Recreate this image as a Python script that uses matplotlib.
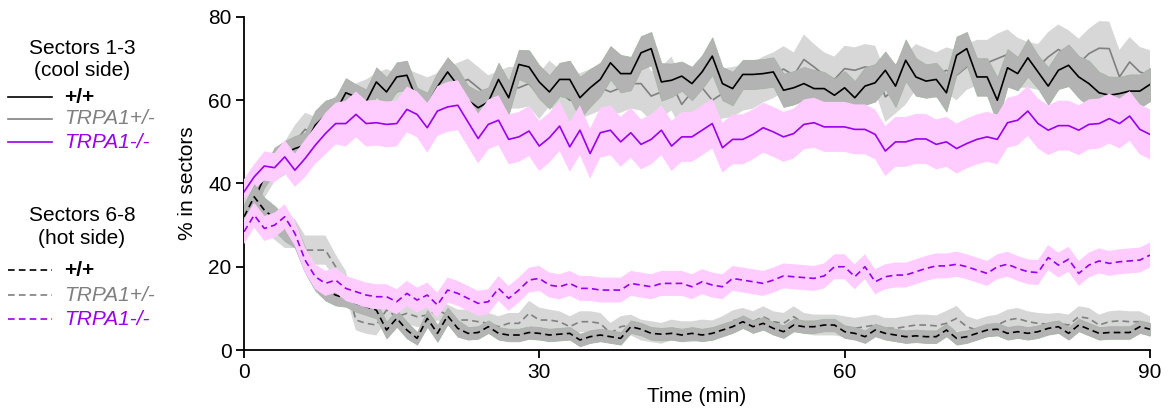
import numpy as np
import matplotlib
matplotlib.use("Agg")
import matplotlib.pyplot as plt
from matplotlib.lines import Line2D

plt.rcParams['font.family'] = ['Liberation Sans', 'DejaVu Sans']

# ---------------- data (minutes 1..90) ----------------
time_min = np.arange(1, 91)

cool_wt = [29.6, 36.0, 41.6, 45.6, 47.2, 48.4, 49.2, 54.0, 56.4, 57.2,
           61.8, 60.8, 59.6, 64.4, 62.0, 65.6, 66.0, 60.0, 58.8, 63.2,
           66.8, 63.6, 60.0, 58.2, 59.6, 65.0, 60.6, 68.6, 68.0, 64.4,
           62.0, 65.0, 65.0, 60.6, 63.0, 65.0, 69.0, 66.4, 66.4, 71.4,
           72.4, 64.4, 64.8, 65.8, 64.0, 66.8, 70.6, 64.0, 62.8, 66.2,
           66.2, 66.4, 66.8, 62.4, 63.0, 64.0, 62.8, 62.8, 61.2, 63.0,
           60.6, 63.4, 64.2, 67.2, 63.4, 69.6, 65.6, 64.6, 65.0, 61.8,
           70.8, 72.4, 65.6, 65.6, 60.0, 67.8, 66.4, 70.2, 66.8, 63.4,
           67.2, 68.4, 65.6, 64.0, 61.8, 61.2, 61.6, 62.2, 62.2, 63.8]
cool_wt_sem = [2.0, 2.5, 2.5, 3.0, 3.0, 3.0, 3.0, 3.5, 3.5, 3.5,
               3.5, 3.0, 3.0, 3.5, 3.5, 3.5, 3.5, 3.0, 3.0, 3.5,
               3.5, 4.0, 3.5, 4.0, 3.5, 4.0, 4.0, 3.5, 4.0, 4.0,
               4.0, 4.0, 4.5, 5.0, 4.5, 4.0, 4.0, 4.5, 4.0, 4.0,
               4.0, 4.5, 4.0, 3.5, 4.0, 4.0, 4.5, 4.0, 4.0, 3.5,
               3.5, 3.5, 3.5, 4.0, 4.0, 4.0, 4.5, 4.0, 4.0, 4.0,
               4.0, 4.5, 4.5, 4.5, 5.0, 5.0, 4.5, 4.0, 4.0, 4.5,
               4.5, 4.0, 4.5, 4.5, 5.5, 4.5, 4.0, 4.5, 4.0, 4.5,
               4.5, 5.0, 5.0, 5.5, 5.0, 4.5, 4.0, 4.0, 4.0, 4.0]

cool_het = [30.5, 36.0, 40.0, 44.0, 46.0, 50.0, 53.0, 52.0, 55.0, 57.0,
            59.0, 60.0, 61.0, 62.0, 63.0, 62.0, 63.0, 62.0, 61.0, 62.0,
            63.0, 64.0, 65.0, 63.0, 61.0, 62.0, 63.0, 63.0, 64.0, 61.0,
            64.0, 62.0, 60.0, 61.0, 62.0, 63.0, 62.0, 63.0, 64.0, 64.0,
            61.0, 62.0, 64.0, 59.0, 62.0, 63.0, 60.0, 61.6, 62.0, 63.0,
            63.5, 65.0, 66.0, 67.5, 66.0, 69.8, 68.0, 66.0, 65.0, 67.6,
            67.2, 68.0, 67.6, 60.8, 62.8, 65.0, 68.0, 67.0, 66.0, 67.2,
            66.0, 68.0, 69.0, 69.0, 70.0, 71.0, 69.0, 68.5, 68.0, 70.4,
            72.2, 70.8, 68.8, 71.2, 72.5, 72.4, 65.6, 69.2, 66.8, 66.0]
cool_het_sem = [3.0, 3.0, 3.5, 3.5, 4.0, 4.0, 4.0, 4.0, 4.0, 4.0,
                4.0, 4.0, 4.0, 4.5, 4.5, 4.5, 4.5, 4.5, 4.5, 4.5,
                5.0, 5.0, 5.0, 5.0, 5.0, 5.0, 5.0, 5.0, 5.5, 5.5,
                5.5, 5.5, 5.5, 5.5, 5.5, 5.5, 5.5, 6.0, 6.0, 6.5,
                6.0, 6.0, 6.5, 6.0, 6.0, 6.0, 6.5, 6.0, 6.0, 5.5,
                5.5, 5.5, 5.5, 5.5, 5.5, 6.0, 5.5, 5.5, 5.5, 5.5,
                5.5, 5.5, 5.5, 6.0, 6.0, 6.0, 5.5, 5.5, 5.5, 5.5,
                6.0, 5.5, 5.5, 5.5, 6.0, 6.0, 6.0, 5.5, 5.5, 6.0,
                6.0, 6.0, 6.0, 6.0, 6.5, 6.5, 6.5, 6.0, 6.0, 6.0]

cool_ko = [38.0, 41.6, 44.2, 43.8, 46.4, 43.2, 46.0, 49.2, 52.0, 54.4,
           54.4, 56.6, 54.4, 54.6, 54.2, 54.4, 57.8, 56.6, 53.4, 57.4,
           58.4, 58.8, 54.8, 50.8, 54.2, 55.2, 50.6, 51.2, 52.6, 49.0,
           51.0, 53.8, 48.8, 52.8, 47.2, 52.2, 52.8, 50.0, 52.2, 49.4,
           50.6, 52.8, 49.0, 51.2, 51.2, 52.8, 54.4, 48.6, 50.6, 50.6,
           51.8, 53.4, 52.4, 51.2, 52.0, 54.2, 54.6, 53.6, 53.6, 53.6,
           53.0, 53.0, 51.8, 47.8, 50.0, 50.0, 50.7, 50.7, 49.4, 50.0,
           48.4, 49.6, 50.6, 51.2, 50.6, 54.6, 55.2, 57.4, 54.4, 52.8,
           53.9, 53.9, 52.8, 54.2, 54.4, 55.6, 54.4, 56.2, 53.0, 51.8]
cool_ko_sem = [3.0, 3.0, 3.5, 3.5, 4.0, 4.0, 4.5, 4.5, 5.0, 5.0,
               5.5, 5.5, 5.5, 5.5, 5.5, 5.5, 5.5, 5.5, 6.0, 6.0,
               6.0, 6.0, 6.0, 6.0, 6.0, 6.0, 6.0, 6.0, 6.0, 6.0,
               6.0, 6.0, 6.0, 6.0, 6.0, 6.0, 6.0, 6.0, 6.0, 6.0,
               6.0, 6.0, 6.0, 6.0, 6.0, 6.0, 6.0, 6.0, 6.0, 6.0,
               6.0, 6.0, 6.0, 6.0, 6.0, 6.0, 6.0, 6.0, 6.0, 6.0,
               6.0, 6.0, 6.0, 6.0, 6.0, 6.0, 6.0, 6.0, 6.0, 6.0,
               6.0, 6.0, 6.0, 6.0, 6.0, 6.0, 6.0, 6.0, 6.0, 6.0,
               6.0, 6.0, 6.0, 6.0, 6.0, 6.0, 6.0, 6.0, 6.0, 6.0]

hot_wt = [32.0, 36.8, 33.6, 31.6, 29.2, 27.6, 21.6, 16.8, 14.4, 13.2,
          12.4, 11.2, 10.4, 9.6, 4.8, 7.6, 4.8, 2.8, 7.6, 4.0,
          8.2, 5.2, 4.0, 4.2, 5.6, 4.0, 3.6, 3.6, 4.2, 4.0,
          3.6, 3.8, 4.0, 2.4, 3.2, 3.6, 3.2, 2.8, 5.6, 5.0,
          4.0, 3.8, 4.0, 3.6, 4.0, 3.6, 4.0, 4.8, 5.6, 6.8,
          5.6, 6.4, 5.2, 4.4, 6.0, 5.6, 5.6, 6.0, 6.0, 4.4,
          4.0, 3.2, 4.8, 4.0, 3.6, 3.2, 3.4, 3.2, 3.2, 4.8,
          2.8, 3.2, 4.0, 4.8, 5.0, 4.0, 4.4, 4.0, 4.4, 5.2,
          5.6, 4.0, 6.0, 5.0, 4.0, 4.2, 4.2, 4.2, 5.6, 5.0]
hot_wt_sem = [3.0, 3.0, 3.0, 3.0, 3.0, 3.0, 3.0, 2.5, 2.5, 2.5,
              2.0, 2.0, 2.0, 2.0, 2.0, 2.0, 2.0, 1.5, 2.0, 2.0,
              2.0, 2.0, 1.5, 1.5, 1.5, 1.5, 1.5, 1.5, 1.5, 1.5,
              1.5, 1.5, 1.5, 1.5, 1.5, 1.5, 1.5, 1.5, 1.5, 1.5,
              1.5, 1.5, 1.5, 1.5, 1.5, 1.5, 1.5, 1.5, 1.5, 1.5,
              1.5, 1.5, 1.5, 1.5, 1.5, 1.5, 1.5, 1.5, 1.5, 1.5,
              1.5, 1.5, 1.5, 1.5, 1.5, 1.5, 1.5, 1.5, 1.5, 1.5,
              1.5, 1.5, 1.5, 1.5, 1.5, 1.5, 1.5, 1.5, 1.5, 1.5,
              1.5, 1.5, 1.5, 1.5, 1.5, 1.5, 1.5, 1.5, 1.5, 1.5]

hot_het = [33.0, 35.0, 32.0, 30.0, 28.0, 28.0, 24.0, 24.0, 24.0, 20.0,
           16.0, 7.2, 6.4, 6.0, 9.6, 8.0, 8.8, 8.0, 8.4, 9.6,
           8.4, 7.2, 7.2, 6.8, 6.4, 5.6, 6.4, 6.4, 8.8, 7.2,
           7.2, 6.8, 5.6, 6.8, 6.8, 6.4, 4.0, 5.6, 6.0, 4.8,
           4.4, 4.0, 4.8, 4.4, 4.4, 4.8, 4.6, 5.6, 7.0, 7.6,
           6.8, 8.0, 6.8, 6.4, 8.0, 6.4, 6.0, 6.0, 6.0, 5.6,
           5.2, 5.6, 6.0, 5.2, 5.2, 5.6, 6.0, 6.0, 5.8, 6.4,
           7.6, 5.6, 4.8, 5.6, 6.0, 7.2, 7.6, 6.8, 6.4, 6.2,
           6.4, 6.0, 8.0, 7.6, 6.0, 6.8, 7.0, 6.8, 6.8, 5.6]
hot_het_sem = [3.5, 3.5, 3.5, 3.5, 3.5, 3.5, 3.5, 3.5, 3.5, 3.0,
               3.0, 2.5, 2.5, 2.5, 2.5, 2.5, 2.5, 2.5, 2.5, 2.5,
               2.5, 2.5, 2.5, 2.5, 2.5, 2.5, 2.5, 2.5, 3.0, 3.0,
               2.5, 2.5, 2.5, 2.5, 2.5, 2.5, 2.5, 2.5, 2.5, 2.5,
               2.5, 2.5, 2.5, 2.5, 2.5, 2.5, 2.5, 2.5, 2.5, 2.5,
               2.5, 2.5, 2.5, 2.5, 2.5, 2.5, 2.5, 2.5, 2.5, 2.5,
               2.5, 2.5, 2.5, 2.5, 2.5, 2.5, 2.5, 2.5, 2.5, 3.0,
               3.0, 2.5, 2.5, 2.5, 2.5, 2.5, 2.5, 2.5, 2.5, 2.5,
               2.5, 2.5, 2.5, 2.5, 2.5, 2.5, 2.5, 2.5, 2.5, 2.5]

hot_ko = [28.4, 32.4, 29.2, 30.0, 32.0, 28.0, 21.6, 17.6, 16.0, 16.8,
          14.8, 14.0, 13.2, 12.8, 12.8, 11.6, 13.6, 12.0, 13.2, 10.8,
          14.4, 13.6, 12.4, 11.2, 11.6, 14.8, 12.4, 14.4, 16.8, 17.2,
          15.6, 15.2, 16.0, 14.8, 14.8, 14.4, 14.4, 14.4, 16.0, 15.6,
          15.2, 16.0, 16.0, 16.0, 15.2, 16.4, 15.6, 15.2, 17.2, 16.8,
          16.4, 16.0, 16.8, 17.8, 17.6, 17.4, 17.2, 17.8, 20.0, 20.0,
          17.6, 20.0, 16.4, 17.6, 18.0, 18.0, 18.8, 19.6, 20.2, 20.2,
          20.6, 20.0, 19.2, 18.4, 20.0, 20.6, 19.6, 18.8, 18.6, 22.2,
          20.4, 21.8, 18.4, 20.4, 21.4, 20.8, 21.2, 21.4, 21.6, 22.8]
hot_ko_sem = [3.0, 3.0, 3.0, 3.0, 3.0, 3.0, 3.0, 3.0, 3.0, 3.0,
              3.0, 3.0, 3.0, 3.0, 3.0, 3.0, 3.0, 3.0, 3.0, 3.0,
              3.0, 3.0, 3.0, 3.0, 3.0, 3.0, 3.0, 3.0, 3.0, 3.0,
              3.0, 3.0, 3.0, 3.0, 3.0, 3.0, 3.0, 3.0, 3.0, 3.0,
              3.0, 3.0, 3.0, 3.0, 3.0, 3.0, 3.0, 3.0, 3.0, 3.0,
              3.0, 3.0, 3.0, 3.0, 3.0, 3.0, 3.0, 3.0, 3.0, 3.0,
              3.0, 3.0, 3.0, 3.0, 3.0, 3.0, 3.0, 3.0, 3.0, 3.0,
              3.0, 3.0, 3.0, 3.0, 3.0, 3.0, 3.0, 3.0, 3.0, 3.0,
              3.0, 3.0, 3.0, 3.0, 3.0, 3.0, 3.0, 3.0, 3.0, 3.0]

x_ticks = [1, 30, 60, 90]
x_tick_labels = ['0', '30', '60', '90']
y_ticks = [0, 20, 40, 60, 80]

# ---------------- styles ----------------
C_WT, C_HET, C_KO = '#000000', '#808080', '#9900ee'
B_WT, B_HET, B_KO = '#b3b3b3', '#d7d7d7', '#ffccff'
E_WT = '#a5b4a5'
FS = 15

W, H = 1171, 411
fig = plt.figure(figsize=(W / 100, H / 100), dpi=100)
ax = fig.add_axes([244 / W, 1 - 350 / H, (1150 - 244) / W, (350 - 17) / H])

t = time_min
series = [
    (cool_het, cool_het_sem, C_HET, B_HET, None, '-'),
    (cool_wt, cool_wt_sem, C_WT, B_WT, E_WT, '-'),
    (cool_ko, cool_ko_sem, C_KO, B_KO, None, '-'),
    (hot_het, hot_het_sem, C_HET, B_HET, None, '--'),
    (hot_wt, hot_wt_sem, C_WT, B_WT, E_WT, '--'),
    (hot_ko, hot_ko_sem, C_KO, B_KO, None, '--'),
]
z = 1
for m, s, c, bc, ec, ls in series:
    m = np.asarray(m); s = np.asarray(s)
    if ec is None:
        ax.fill_between(t, m - s, m + s, facecolor=bc, lw=0, zorder=z)
    else:
        ax.fill_between(t, m - s, m + s, facecolor=bc, edgecolor=ec,
                        lw=0.6, zorder=z)
    ln, = ax.plot(t, m, color=c, lw=1.2, ls=ls, zorder=z + 0.5)
    if ls == '--':
        ln.set_dashes((4, 2.5))
    z += 1

ax.set_xlim(1, 90)
ax.set_ylim(0, 80)
ax.set_xticks(x_ticks)
ax.set_xticklabels(x_tick_labels)
ax.set_yticks(y_ticks)
for sp in ['top', 'right']:
    ax.spines[sp].set_visible(False)
for sp in ['left', 'bottom']:
    ax.spines[sp].set_linewidth(1.3)
ax.tick_params(direction='out', length=6, width=1.3, labelsize=FS, pad=3)
ax.set_xlabel('Time (min)', fontsize=FS, labelpad=4)
ax.set_ylabel('% in sectors', fontsize=FS, labelpad=8)

# ---------------- legend (figure pixel coordinates) ----------------
def fx(px):
    return px / W

def fy(py):
    return 1 - py / H

def header(y1, l1, l2):
    fig.text(fx(82), fy(y1), l1, fontsize=FS, ha='center', va='center')
    fig.text(fx(82), fy(y1 + 23), l2, fontsize=FS, ha='center', va='center')

def entry(y, color, ls, label, style, weight):
    ln = Line2D([fx(8), fx(52)], [fy(y), fy(y)], transform=fig.transFigure,
                color=color, lw=1.2, ls=ls)
    if ls == '--':
        ln.set_dashes((4, 2.5))
    fig.add_artist(ln)
    fig.text(fx(64), fy(y), label, fontsize=FS, color=color, ha='left',
             va='center', style=style, weight=weight)

header(48, 'Sectors 1-3', '(cool side)')
entry(97, C_WT, '-', '+/+', 'normal', 'bold')
entry(119, C_HET, '-', 'TRPA1+/-', 'italic', 'normal')
entry(142, C_KO, '-', 'TRPA1-/-', 'italic', 'normal')

header(215, 'Sectors 6-8', '(hot side)')
entry(270, C_WT, '--', '+/+', 'normal', 'bold')
entry(295, C_HET, '--', 'TRPA1+/-', 'italic', 'normal')
entry(319, C_KO, '--', 'TRPA1-/-', 'italic', 'normal')

fig.savefig('out.png', dpi=100)
